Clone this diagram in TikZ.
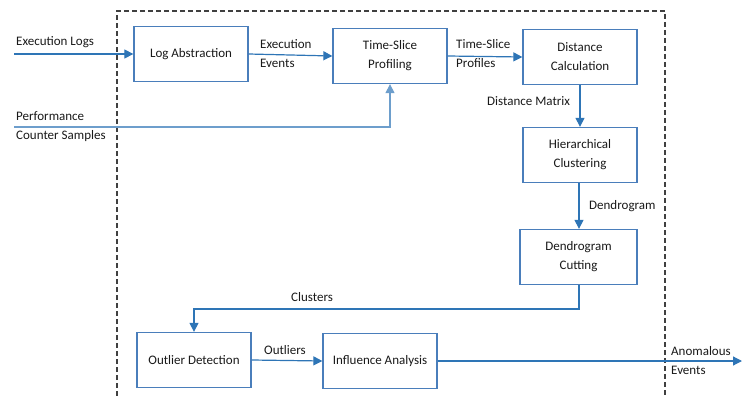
\documentclass[tikz,border=0pt]{standalone}
\usepackage{fontspec}
\setmainfont{Carlito}
\usetikzlibrary{arrows.meta}
\definecolor{flow}{RGB}{46,117,182}
\definecolor{boxline}{RGB}{74,126,187}
\definecolor{txt}{RGB}{25,25,25}
\begin{document}
\begin{tikzpicture}[x=1pt,y=-1pt,
  font=\fontsize{13}{19}\selectfont, text=txt,
  stage/.style={draw=boxline, line width=1.3pt, fill=white, minimum width=114pt, minimum height=55pt, align=center, inner sep=2pt},
  flowline/.style={draw=flow, line width=1.2pt, -{Triangle[length=9pt,width=9pt]}},
  lbl/.style={inner sep=0pt, align=left, anchor=west}]
\useasboundingbox (0,0) rectangle (745,396);
% system boundary
\draw[line width=1.1pt, black!75, dash pattern=on 5pt off 3pt] (117,396) -- (117,11) -- (665,11) -- (665,396);
% processing stages
\node[stage] (abs) at (191,54) {Log Abstraction};
\node[stage] (tsp) at (390,56) {Time-Slice\\Profiling};
\node[stage] (dist) at (580,57) {Distance\\Calculation};
\node[stage] (hc) at (580,155) {Hierarchical\\Clustering};
\node[stage, minimum width=117pt] (cut) at (578.5,257) {Dendrogram\\Cutting};
\node[stage] (out) at (194,360) {Outlier Detection};
\node[stage] (inf) at (380,361) {Influence Analysis};
% inputs and outputs
\coordinate (logs) at (14,54);
\coordinate (perf) at (14,127);
\coordinate (anom) at (742,361);
\draw[flowline] (logs) -- (abs.west);
\node[lbl] (logsl) at (16,42) {Execution Logs};
\draw[flowline, draw=flow!70] (perf) -| (tsp.south);
\node[lbl] (perfl) at (16,127) {Performance\\Counter Samples};
\draw[flowline] (abs.east) -- (tsp.west);
\node[lbl] (eel) at (260,54) {Execution\\Events};
\draw[flowline] (tsp.east) -- (dist.west);
\node[lbl] (tspl) at (456,54) {Time-Slice\\Profiles};
\draw[flowline] (dist.south) -- (hc.north);
\node[lbl] (dml) at (487,101) {Distance Matrix};
\draw[flowline] (hc.south -| 579,0) -- (cut.north -| 579,0);
\node[lbl] (dgl) at (589,206) {Dendrogram};
\coordinate (bend) at (579,309);
\draw[flowline] (cut.south -| bend) -- (bend) -| (out.north);
\node[lbl] (cll) at (291,297) {Clusters};
\draw[flowline] (out.east) -- (inf.west);
\node[lbl] (oul) at (264,350) {Outliers};
\draw[flowline] (inf.east) -- (anom);
\node[lbl] (anl) at (671,361) {Anomalous\\Events};
\end{tikzpicture}
\end{document}
